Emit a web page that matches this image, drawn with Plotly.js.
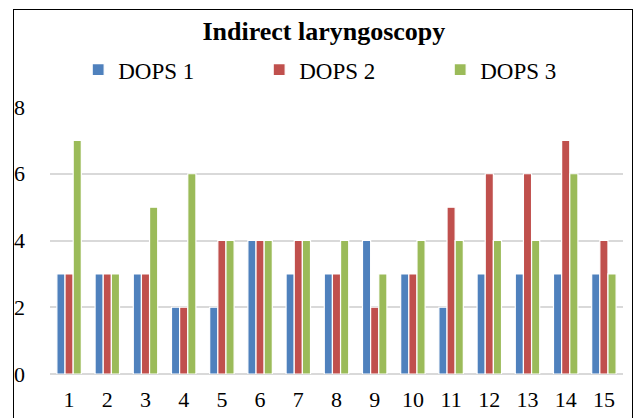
<!DOCTYPE html>
<html><head><meta charset="utf-8">
<script src="https://cdn.plot.ly/plotly-3.0.1.min.js"></script>
<style>body{margin:0;background:#fff}#w{position:relative;width:635px;height:418px}#c{width:635px;height:418px}
#b{position:absolute;left:13px;top:9px;width:618px;height:420px;border:1.5px solid #000;border-bottom:none;pointer-events:none}</style>
</head><body><div id="w"><div id="c"></div><div id="b"></div></div>
<script>
const categories = ["1","2","3","4","5","6","7","8","9","10","11","12","13","14","15"];
const dops1 = [3,3,3,2,2,4,3,3,4,3,2,3,3,3,3];
const dops2 = [3,3,3,2,4,4,4,3,2,3,5,6,6,7,4];
const dops3 = [7,3,5,6,4,4,4,4,3,4,4,4,4,6,3];
const seriesNames = ["DOPS 1","DOPS 2","DOPS 3"];
const colors = ["#4F81BD","#C0504D","#9BBB59"];
const font = "'Liberation Serif', 'Times New Roman', serif";
const data = [dops1,dops2,dops3].map((v,i)=>({
  type:"bar", x:categories, y:v, name:seriesNames[i],
  marker:{color:colors[i], line:{color:"#fff", width:1.2}}
}));
const layout = {
  width:635, height:418,
  margin:{l:50, r:12, t:107, b:44},
  paper_bgcolor:"#fff", plot_bgcolor:"#fff",
  font:{family:font, size:22, color:"#000"},
  title:{text:"<b>Indirect laryngoscopy</b>", font:{family:font, size:26, color:"#000"}, x:0.51, xanchor:"center", y:0.925, yanchor:"middle"},
  barmode:"group", bargap:0.36, bargroupgap:0,
  showlegend:true,
  legend:{orientation:"h", x:0.523, xanchor:"center", y:1.14, yanchor:"middle", font:{family:font, size:23}, itemwidth:30, traceorder:"normal", entrywidth:136},
  xaxis:{type:"category", showgrid:false, showline:false, ticks:"", tickfont:{family:font, size:22}, ticklabelstandoff:10},
  yaxis:{range:[0,8], dtick:2, showgrid:true, gridcolor:"#d9d9d9", gridwidth:1.5, zeroline:true, zerolinecolor:"#d9d9d9", zerolinewidth:1.5, showline:false, ticks:"", tickfont:{family:font, size:22}, ticklabelstandoff:24}
};
Plotly.newPlot("c", data, layout, {displayModeBar:false});
</script></body></html>
